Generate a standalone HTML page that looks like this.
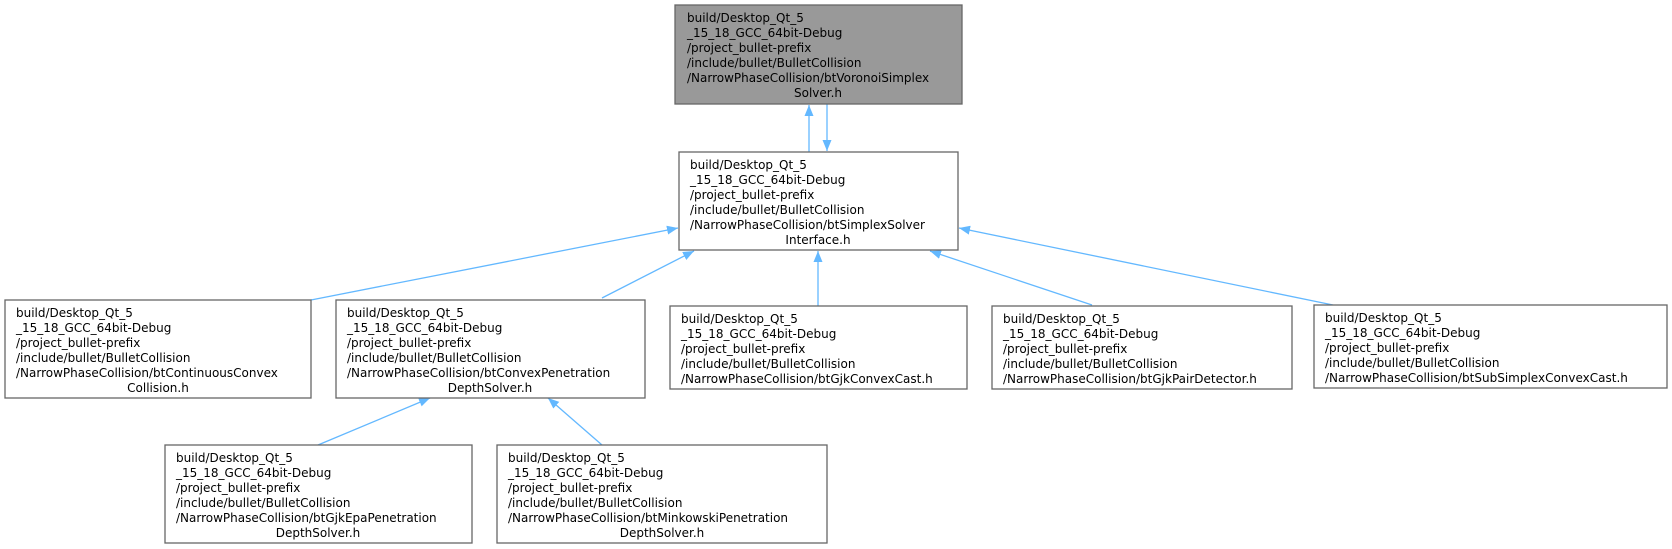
<!DOCTYPE html>
<html><head><meta charset="utf-8"><style>
html,body{margin:0;padding:0;background:#fff;}
svg{display:block;}
text{font-family:"DejaVu Sans","Liberation Sans",sans-serif;font-size:12px;fill:#000;}
.b{fill:#fff;stroke:#666;stroke-width:1.3;}
.e{stroke:#63b8ff;stroke-width:1.3;fill:none;}
</style></head><body>
<svg width="1672" height="549" viewBox="0 0 1672 549" xmlns="http://www.w3.org/2000/svg">
<defs><marker id="a" markerWidth="12" markerHeight="10" refX="11" refY="4.5" orient="auto" markerUnits="userSpaceOnUse"><path d="M0,0 L11,4.5 L0,9 Z" fill="#63b8ff"/></marker></defs>

<!-- edges -->
<line class="e" x1="809" y1="152" x2="809" y2="105" marker-end="url(#a)"/>
<line class="e" x1="827" y1="104" x2="827" y2="151" marker-end="url(#a)"/>
<line class="e" x1="311" y1="300" x2="678" y2="228" marker-end="url(#a)"/>
<line class="e" x1="602" y1="298" x2="694" y2="251" marker-end="url(#a)"/>
<line class="e" x1="818" y1="306" x2="818" y2="251" marker-end="url(#a)"/>
<line class="e" x1="1092" y1="305" x2="930" y2="251" marker-end="url(#a)"/>
<line class="e" x1="1333" y1="305" x2="959" y2="228" marker-end="url(#a)"/>
<line class="e" x1="318" y1="445" x2="430" y2="398" marker-end="url(#a)"/>
<line class="e" x1="602" y1="445" x2="548" y2="398" marker-end="url(#a)"/>

<!-- top -->
<rect x="675" y="5" width="287" height="99" style="fill:#999;stroke:#666;stroke-width:1.3"/>
<text x="687" y="22">build/Desktop_Qt_5</text>
<text x="687" y="37">_15_18_GCC_64bit-Debug</text>
<text x="687" y="52">/project_bullet-prefix</text>
<text x="687" y="67">/include/bullet/BulletCollision</text>
<text x="687" y="82">/NarrowPhaseCollision/btVoronoiSimplex</text>
<text x="818" y="97" text-anchor="middle">Solver.h</text>

<!-- middle -->
<rect class="b" x="679" y="152" width="279" height="98"/>
<text x="690" y="169">build/Desktop_Qt_5</text>
<text x="690" y="184">_15_18_GCC_64bit-Debug</text>
<text x="690" y="199">/project_bullet-prefix</text>
<text x="690" y="214">/include/bullet/BulletCollision</text>
<text x="690" y="229">/NarrowPhaseCollision/btSimplexSolver</text>
<text x="818" y="244" text-anchor="middle">Interface.h</text>

<!-- A -->
<rect class="b" x="5" y="300" width="306" height="98"/>
<text x="16" y="317">build/Desktop_Qt_5</text>
<text x="16" y="332">_15_18_GCC_64bit-Debug</text>
<text x="16" y="347">/project_bullet-prefix</text>
<text x="16" y="362">/include/bullet/BulletCollision</text>
<text x="16" y="377">/NarrowPhaseCollision/btContinuousConvex</text>
<text x="158" y="392" text-anchor="middle">Collision.h</text>

<!-- B -->
<rect class="b" x="336" y="300" width="309" height="98"/>
<text x="347" y="317">build/Desktop_Qt_5</text>
<text x="347" y="332">_15_18_GCC_64bit-Debug</text>
<text x="347" y="347">/project_bullet-prefix</text>
<text x="347" y="362">/include/bullet/BulletCollision</text>
<text x="347" y="377">/NarrowPhaseCollision/btConvexPenetration</text>
<text x="490" y="392" text-anchor="middle">DepthSolver.h</text>

<!-- C -->
<rect class="b" x="670" y="306" width="297" height="83"/>
<text x="681" y="323">build/Desktop_Qt_5</text>
<text x="681" y="338">_15_18_GCC_64bit-Debug</text>
<text x="681" y="353">/project_bullet-prefix</text>
<text x="681" y="368">/include/bullet/BulletCollision</text>
<text x="681" y="383">/NarrowPhaseCollision/btGjkConvexCast.h</text>

<!-- D -->
<rect class="b" x="992" y="306" width="300" height="83"/>
<text x="1003" y="323">build/Desktop_Qt_5</text>
<text x="1003" y="338">_15_18_GCC_64bit-Debug</text>
<text x="1003" y="353">/project_bullet-prefix</text>
<text x="1003" y="368">/include/bullet/BulletCollision</text>
<text x="1003" y="383">/NarrowPhaseCollision/btGjkPairDetector.h</text>

<!-- E -->
<rect class="b" x="1314" y="305" width="353" height="83"/>
<text x="1325" y="322">build/Desktop_Qt_5</text>
<text x="1325" y="337">_15_18_GCC_64bit-Debug</text>
<text x="1325" y="352">/project_bullet-prefix</text>
<text x="1325" y="367">/include/bullet/BulletCollision</text>
<text x="1325" y="382">/NarrowPhaseCollision/btSubSimplexConvexCast.h</text>

<!-- F -->
<rect class="b" x="165" y="445" width="307" height="98"/>
<text x="176" y="462">build/Desktop_Qt_5</text>
<text x="176" y="477">_15_18_GCC_64bit-Debug</text>
<text x="176" y="492">/project_bullet-prefix</text>
<text x="176" y="507">/include/bullet/BulletCollision</text>
<text x="176" y="522">/NarrowPhaseCollision/btGjkEpaPenetration</text>
<text x="318" y="537" text-anchor="middle">DepthSolver.h</text>

<!-- G -->
<rect class="b" x="497" y="445" width="330" height="98"/>
<text x="508" y="462">build/Desktop_Qt_5</text>
<text x="508" y="477">_15_18_GCC_64bit-Debug</text>
<text x="508" y="492">/project_bullet-prefix</text>
<text x="508" y="507">/include/bullet/BulletCollision</text>
<text x="508" y="522">/NarrowPhaseCollision/btMinkowskiPenetration</text>
<text x="662" y="537" text-anchor="middle">DepthSolver.h</text>
</svg>
</body></html>
